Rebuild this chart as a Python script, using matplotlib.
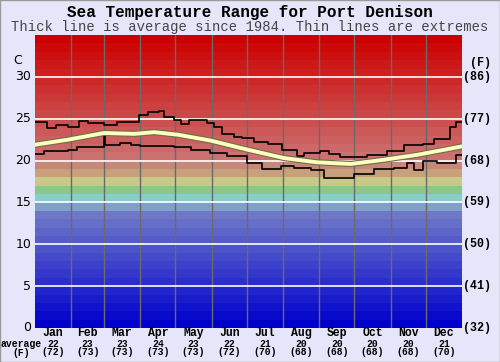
import numpy as np
import matplotlib.pyplot as plt
import matplotlib.patheffects as pe
from matplotlib.patches import Rectangle

# data
months = ["Jan", "Feb", "Mar", "Apr", "May", "Jun", "Jul", "Aug", "Sep", "Oct", "Nov", "Dec"]
month_len = [31, 28, 31, 30, 31, 30, 31, 31, 30, 31, 30, 31]
avg_c = [22, 23, 23, 24, 23, 22, 21, 20, 20, 20, 20, 21]
avg_f = [72, 73, 73, 73, 73, 72, 70, 68, 68, 68, 68, 70]

# upper extreme (step changes: day of year, deg C)
max_days = [0, 10, 18, 28, 38, 45, 59, 70, 89, 97, 106, 110, 119, 125, 132, 136, 147, 153,
            160, 170, 177, 187, 199, 211, 224, 230, 244, 251, 261, 284, 301, 315, 332, 341,
            355, 360, 365]
max_vals = [24.6, 23.9, 24.3, 24.0, 24.7, 24.5, 24.3, 24.6, 25.5, 25.8, 25.9, 25.2, 24.8,
            24.4, 24.8, 24.9, 24.5, 24.0, 23.2, 22.8, 22.7, 22.2, 22.0, 21.3, 20.5, 20.9,
            21.1, 20.8, 20.4, 20.7, 21.1, 21.9, 22.0, 22.6, 24.0, 24.6, 24.6]

# lower extreme
min_days = [0, 8, 28, 36, 59, 60, 73, 82, 90, 119, 133, 150, 164, 181, 194, 210, 221, 236,
            247, 273, 290, 307, 318, 324, 332, 344, 360, 365]
min_vals = [20.8, 21.1, 21.3, 21.6, 23.4, 21.9, 22.1, 21.9, 21.7, 21.6, 21.3, 20.9, 20.5,
            19.7, 19.0, 19.3, 19.1, 18.9, 17.9, 18.4, 19.0, 19.1, 19.7, 18.9, 19.9, 19.7,
            20.7, 20.7]

# average since 1984
avg_days = [0, 28, 59, 85, 102, 122, 150, 182, 213, 241, 270, 298, 327, 365]
avg_vals = [21.9, 22.5, 23.3, 23.2, 23.4, 23.1, 22.4, 21.3, 20.3, 19.8, 19.6, 20.1, 20.7, 21.7]

c_ticks = [0, 5, 10, 15, 20, 25, 30]
f_ticks = ["(32)", "(41)", "(50)", "(59)", "(68)", "(77)", "(86)"]

# background band colours, one per degree (0..34)
band_colors = []
for i in range(35):
    if i <= 13:
        band_colors.append((8.5 * i / 255, 9.2 * i / 255, (204 - 0.3 * i) / 255))
    elif i >= 20:
        g = 112 * (34 - i) / 14
        band_colors.append((204 / 255, g / 255, g / 255))
    else:
        band_colors.append({14: "#80a0c8", 15: "#88cccc", 16: "#88c888",
                            17: "#c8c888", 18: "#c8a07c", 19: "#c88878"}[i])

bg = "#e6e6fa"
fig = plt.figure(figsize=(5, 3.62), dpi=100, facecolor=bg)
ax = fig.add_axes([0.07, 0.094, 0.854, 0.809])
ax.set_xlim(0, 365)
ax.set_ylim(0, 35)
ax.axis("off")

for i, col in enumerate(band_colors):
    ax.axhspan(i, i + 1, color=col, lw=0, zorder=0)

bounds = np.cumsum([0] + month_len)
for b in bounds[1:-1]:
    ax.axvline(b, color="#6a6a6a", lw=1, zorder=1)
for t in c_ticks[1:]:
    ax.axhline(t, color="white", lw=1.2, zorder=1)

ax.plot(max_days, max_vals, drawstyle="steps-post", color="black", lw=1.2, zorder=3)
ax.plot(min_days, min_vals, drawstyle="steps-post", color="black", lw=1.2, zorder=3)
ax.plot(avg_days, avg_vals, color="#ffffc0", lw=2.8, zorder=4,
        path_effects=[pe.Stroke(linewidth=4.4, foreground="#6e6e4a"), pe.Normal()])

mono = "Liberation Mono"
fig.text(0.5, 0.965, "Sea Temperature Range for Port Denison", ha="center", va="center",
         family=mono, fontweight="bold", fontsize=11.5, color="black")
fig.text(0.5, 0.925, "Thick line is average since 1984. Thin lines are extremes",
         ha="center", va="center", family=mono, fontsize=10, color="#444444")

# left and right scales
fig.text(22 / 500, 1 - 61 / 362, "C", ha="right", va="center", fontsize=9, color="black")
fig.text(481 / 500, 1 - 63 / 362, "(F)", ha="center", va="center", family=mono,
         fontweight="bold", fontsize=8.4)
for t, f in zip(c_ticks, f_ticks):
    ax.text(-3.3, t, str(t), ha="right", va="center",
            fontsize=9, color="black", clip_on=False)
    ax.text(366, t, f, ha="left", va="center", family=mono, fontweight="bold",
            fontsize=8.4, clip_on=False)

# month labels underneath
mids = (bounds[:-1] + bounds[1:]) / 2
for m, x, c, f in zip(months, mids, avg_c, avg_f):
    ax.text(x, -0.65, m, ha="center", va="center", family=mono, fontweight="bold",
            fontsize=8.3, clip_on=False)
    ax.text(x, -1.9, str(c), ha="center", va="center", family=mono,
            fontweight="bold", fontsize=7, clip_on=False)
    ax.text(x, -2.93, "(%d)" % f, ha="center", va="center", family=mono,
            fontweight="bold", fontsize=7, clip_on=False)
fig.text(21 / 500, 1 - 344 / 362, "average", ha="center", va="center", family=mono,
         fontweight="bold", fontsize=7)
fig.text(21 / 500, 1 - 352.5 / 362, "(F)", ha="center", va="center", family=mono,
         fontweight="bold", fontsize=7)

fig.patches.append(Rectangle((0, 0), 1, 1, transform=fig.transFigure, fill=False,
                             edgecolor="#9a9a9a", lw=1))

fig.savefig("out.png", dpi=100, facecolor=bg)
